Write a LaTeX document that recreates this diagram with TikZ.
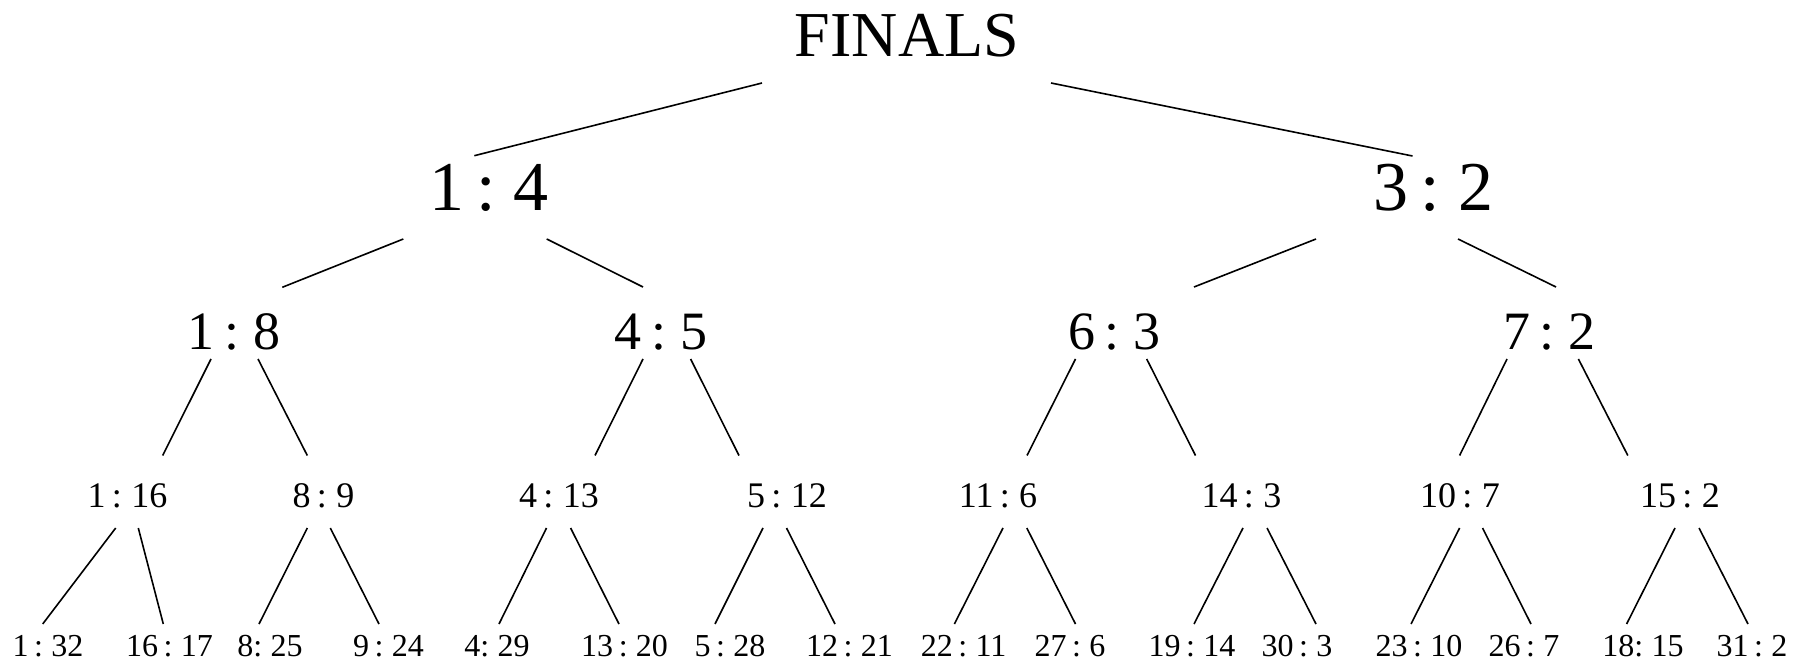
\documentclass[tikz,border=0pt]{standalone}
\usepackage{fontspec}
\setmainfont{Liberation Serif}[WordSpace=0.7]
\begin{document}
\begin{tikzpicture}[x=1pt,y=1pt,
  lbl/.style={inner sep=0pt,outer sep=0pt,anchor=base},
  top/.style={lbl,font=\fontsize{64}{70}\selectfont},
  semi/.style={lbl,font=\fontsize{70}{76}\selectfont},
  quarter/.style={lbl,font=\fontsize{54}{60}\selectfont},
  eighth/.style={lbl,font=\fontsize{36}{40}\selectfont},
  round16/.style={lbl,font=\fontsize{32}{36}\selectfont},
  branch/.style={draw=black,line width=1.6pt}]
\useasboundingbox (0,0) rectangle (1793,-660);

% bracket labels, placed by centre and baseline
\node[top] (fin) at (907,-57) {FINALS};

\node[semi] (a) at (489,-211) {1 : 4};
\node[semi] (b) at (1433.5,-211) {3 : 2};

\node[quarter] (c1) at (234,-349) {1 : 8};
\node[quarter] (c2) at (661,-349) {4 : 5};
\node[quarter] (c3) at (1114.5,-349) {6 : 3};
\node[quarter] (c4) at (1549.5,-349) {7 : 2};

\node[eighth] (d1) at (127.5,-507) {1 : 16};
\node[eighth] (d2) at (323.5,-507) {8 : 9};
\node[eighth] (d3) at (559,-507) {4 : 13};
\node[eighth] (d4) at (787,-507) {5 : 12};
\node[eighth] (d5) at (998,-507) {11 : 6};
\node[eighth] (d6) at (1241.5,-507) {14 : 3};
\node[eighth] (d7) at (1460,-507) {10 : 7};
\node[eighth] (d8) at (1680,-507) {15 : 2};

\node[round16] (e1) at (48,-656) {1 : 32};
\node[round16] (e2) at (169.5,-656) {16 : 17};
\node[round16] (e3) at (270,-656) {8: 25};
\node[round16] (e4) at (388.5,-656) {9 : 24};
\node[round16] (e5) at (497,-656) {4: 29};
\node[round16] (e6) at (624.6,-656) {13 : 20};
\node[round16] (e7) at (730,-656) {5 : 28};
\node[round16] (e8) at (849.5,-656) {12 : 21};
\node[round16] (e9) at (963.6,-656) {22 : 11};
\node[round16] (e10) at (1070,-656) {27 : 6};
\node[round16] (e11) at (1192,-656) {19 : 14};
\node[round16] (e12) at (1297,-656) {30 : 3};
\node[round16] (e13) at (1419,-656) {23 : 10};
\node[round16] (e14) at (1524,-656) {26 : 7};
\node[round16] (e15) at (1643,-656) {18: 15};
\node[round16] (e16) at (1752,-656) {31 : 2};

% \link{parent}{dx}{dy}{child}{dx}{dy}: offsets from each label's base point
\newcommand\link[6]{\draw[branch] ([shift={(#2pt,#3pt)}]#1.base) -- ([shift={(#5pt,#6pt)}]#4.base);}

\link{fin}{-145}{-26}{a}{-14.7}{55.3}
\link{fin}{144}{-26}{b}{-21}{55}

\link{a}{-85.7}{-28}{c1}{48.3}{61.7}
\link{a}{57.7}{-28}{c2}{-18}{62}
\link{b}{-117.5}{-28}{c3}{79.5}{62}
\link{b}{24.5}{-28}{c4}{6.5}{62}

\link{c1}{-23}{-10}{d1}{35.2}{51.5}
\link{c1}{24}{-10}{d2}{-16.2}{51.5}
\link{c2}{-18}{-10}{d3}{36}{51.5}
\link{c2}{29.6}{-10}{d4}{-48}{51.5}
\link{c3}{-39}{-10}{d5}{29}{51.5}
\link{c3}{32.2}{-10}{d6}{-46}{51.5}
\link{c4}{-42.5}{-10}{d7}{-0.4}{51.5}
\link{c4}{28.9}{-10}{d8}{-52.2}{51.5}

\link{d1}{-11.8}{-21}{e1}{-5.3}{32}
\link{d1}{10.8}{-21}{e2}{-6.2}{32}
\link{d2}{-16.2}{-21}{e3}{-11}{32}
\link{d2}{6.8}{-21}{e4}{-9.5}{32}
\link{d3}{-12.5}{-21}{e5}{2}{32}
\link{d3}{11.6}{-21}{e6}{-5.6}{32}
\link{d4}{-24}{-21}{e7}{-15}{32}
\link{d4}{-0.5}{-21}{e8}{-14.5}{32}
\link{d5}{5}{-21}{e9}{-9.2}{32}
\link{d5}{28.8}{-21}{e10}{5.5}{32}
\link{d6}{1.5}{-21}{e11}{2}{32}
\link{d6}{25.5}{-21}{e12}{19}{32}
\link{d7}{-0.4}{-21}{e13}{-8}{32}
\link{d7}{22.5}{-21}{e14}{7}{32}
\link{d8}{-5}{-21}{e15}{-16.4}{32}
\link{d8}{19}{-21}{e16}{-4}{32}
\end{tikzpicture}
\end{document}
